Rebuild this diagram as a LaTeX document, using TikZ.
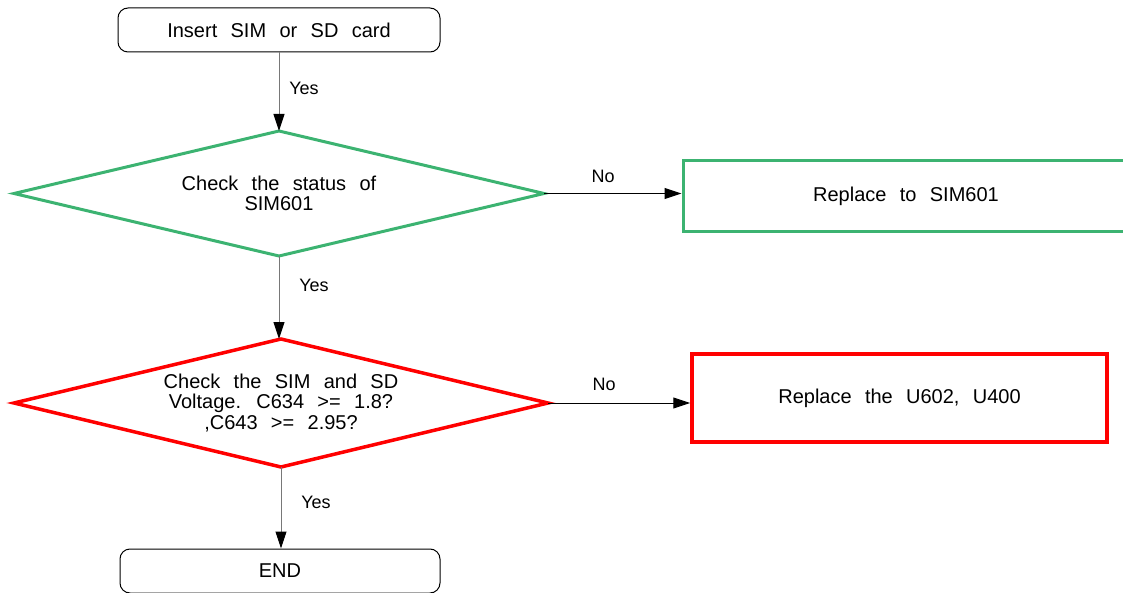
\documentclass[tikz,border=0pt]{standalone}
\usepackage{fontspec}
\setmainfont[WordSpace=2.4]{Liberation Sans}
\usetikzlibrary{arrows.meta}
\definecolor{grn}{RGB}{60,179,113}
\definecolor{ln}{RGB}{120,120,120}
\tikzset{
  term/.style={draw=black,line width=1pt,rounded corners=10pt,inner sep=0pt,
    font=\fontsize{20}{20.5}\selectfont},
  dec/.style={rectangle,inner sep=0pt,outer sep=0pt,align=center,
    font=\fontsize{20}{20.5}\selectfont},
  act/.style={rectangle,draw,inner sep=0pt,font=\fontsize{20}{20.5}\selectfont},
  lbl/.style={font=\fontsize{18}{18}\selectfont,inner sep=0pt},
  tip/.style={-{Triangle[length=17pt,width=11pt,fill=black,color=black]}},
  vline/.style={tip,draw=ln,line width=1pt},
  hline/.style={tip,draw=black,line width=1pt}
}
\begin{document}
\begin{tikzpicture}[x=1pt,y=-1pt]
\useasboundingbox (0,0) rectangle (1123,593);
\node[term,minimum width=322pt,minimum height=44pt] (start) at (279,30) {Insert SIM or SD card};
\node[dec,minimum width=530pt,minimum height=125pt] (d1) at (279,193.5) {Check the status of\\SIM601};
\draw[grn,line width=3pt] (d1.west) -- (d1.north) -- (d1.east) -- (d1.south) -- cycle;
\node[act,draw=grn,line width=3pt,minimum width=446pt,minimum height=71pt] (b1) at (906,196.5) {Replace to SIM601};
\node[dec,minimum width=534pt,minimum height=128pt] (d2) at (281,403) {Check the SIM and SD\\Voltage. C634 >= 1.8?\\,C643 >= 2.95?};
\draw[red,line width=3.5pt] (d2.west) -- (d2.north) -- (d2.east) -- (d2.south) -- cycle;
\node[act,draw=red,line width=3.5pt,minimum width=415pt,minimum height=88pt] (b2) at (899.5,398) {Replace the U602, U400};
\node[term,minimum width=320pt,minimum height=44pt] (end) at (280,571) {END};

\draw[vline] (start.south) -- (d1.north);
\draw[vline] (d1.south) -- (d1.south |- d2.north);
\draw[vline] (d2.south) -- (d2.south |- end.north);
\draw[hline] (d1.east) -- (d1.east -| b1.west);
\draw[hline] (d2.east) -- (d2.east -| b2.west);

\node[lbl] (y1) at (304,88) {Yes};
\node[lbl] (y2) at (314,285) {Yes};
\node[lbl] (y3) at (316,502) {Yes};
\node[lbl] (n1) at (603,176) {No};
\node[lbl] (n2) at (604,384) {No};
\end{tikzpicture}
\end{document}
